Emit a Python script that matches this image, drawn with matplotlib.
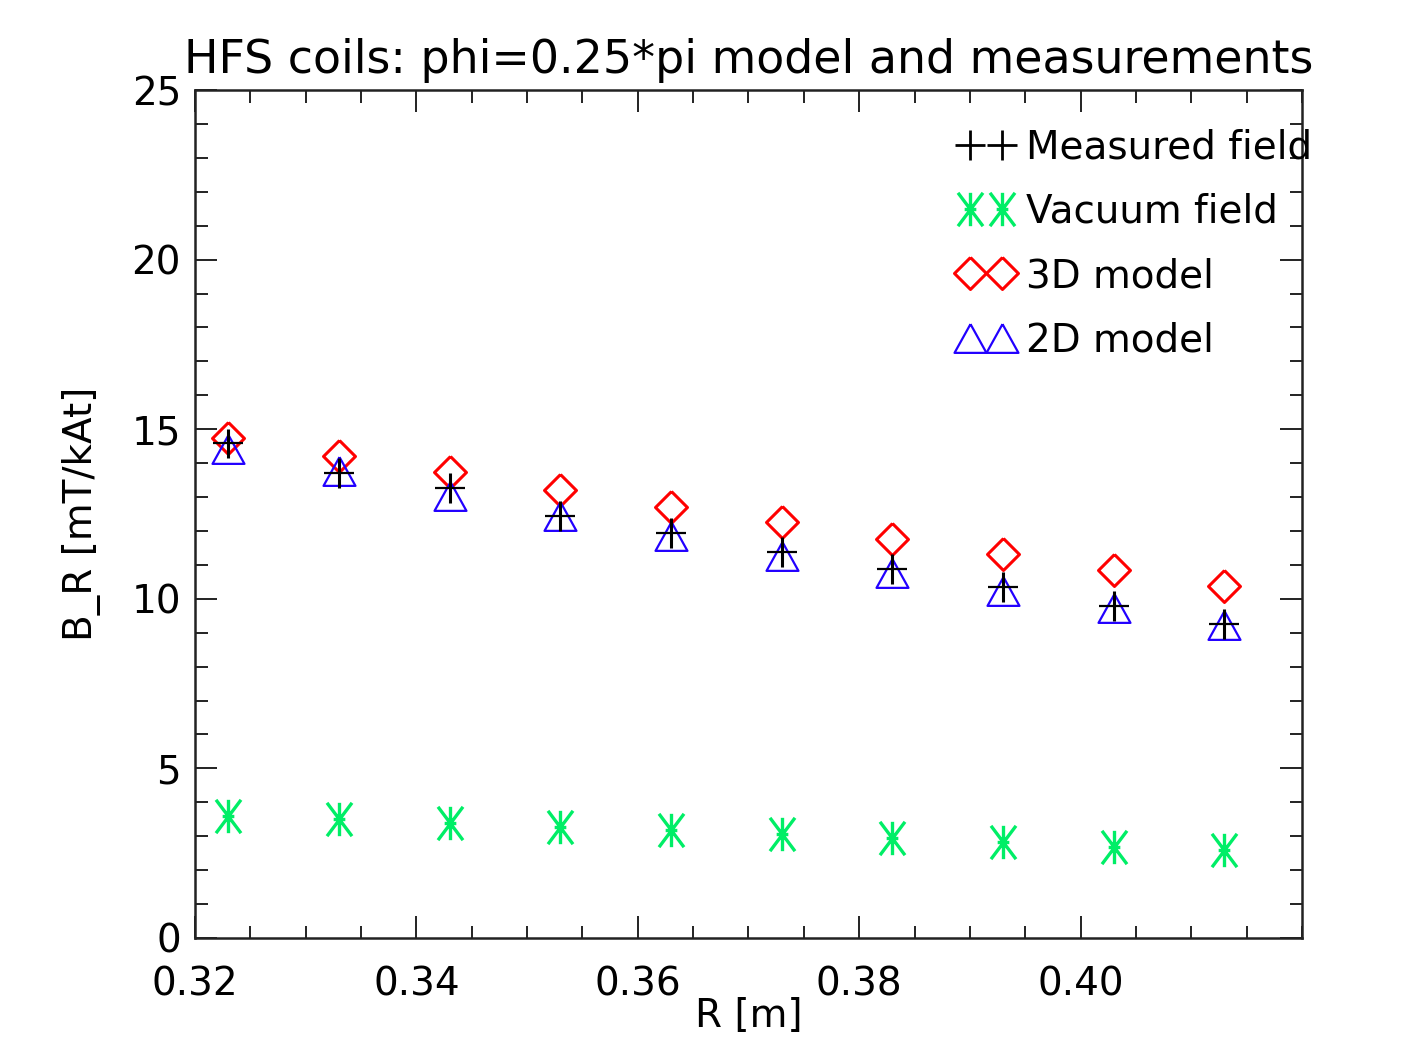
import numpy as np
import matplotlib
matplotlib.use("Agg")
import matplotlib.pyplot as plt
from matplotlib.path import Path
from matplotlib.ticker import MultipleLocator, FixedLocator

# data
R = [0.323, 0.333, 0.343, 0.353, 0.363, 0.373, 0.383, 0.393, 0.403, 0.413]
measured = [14.59, 13.71, 13.27, 12.44, 11.94, 11.38, 10.88, 10.35, 9.79, 9.26]
measured_err = [0.43, 0.44, 0.44, 0.44, 0.44, 0.44, 0.44, 0.44, 0.44, 0.44]
vacuum = [3.60, 3.51, 3.39, 3.27, 3.18, 3.07, 2.95, 2.83, 2.68, 2.59]
model_3d = [14.74, 14.21, 13.74, 13.21, 12.71, 12.26, 11.76, 11.32, 10.85, 10.38]
model_2d = [14.42, 13.77, 13.03, 12.44, 11.85, 11.26, 10.76, 10.23, 9.73, 9.23]

x_ticks = [0.32, 0.34, 0.36, 0.38, 0.40]
x_tick_labels = ["0.32", "0.34", "0.36", "0.38", "0.40"]

plt.rcParams['font.family'] = ['DejaVu Sans']
FS = 28

# IDL-like symbols
diamond = Path([(0, 1), (1, 0), (0, -1), (-1, 0), (0, 1)])
triangle = Path([(0, 0.9), (1, -0.9), (-1, -0.9), (0, 0.9)])
aster = Path([(0, -1), (0, 1), (-0.75, -1), (0.75, 1), (0.75, -1), (-0.75, 1), (-0.35, 0), (0.35, 0)],
             [Path.MOVETO, Path.LINETO, Path.MOVETO, Path.LINETO,
              Path.MOVETO, Path.LINETO, Path.MOVETO, Path.LINETO])

fig = plt.figure(figsize=(14.13, 10.43), dpi=100)
ax = fig.add_axes([0.138, 0.1007, 0.9214 - 0.138, 0.9137 - 0.1007])

green = '#00ee66'
red = '#ff0000'
blue = '#2200ff'

vac_style = dict(linestyle='none', marker=aster, markersize=24, markerfacecolor='none',
                 markeredgecolor=green, markeredgewidth=2.4)
d3_style = dict(linestyle='none', marker=diamond, markersize=23, markerfacecolor='none',
                markeredgecolor=red, markeredgewidth=2.2)
d2_style = dict(linestyle='none', marker=triangle, markersize=23, markerfacecolor='none',
                markeredgecolor=blue, markeredgewidth=1.6)

ax.plot(R, vacuum, **vac_style)
ax.plot(R, model_3d, **d3_style)
ax.plot(R, model_2d, **d2_style)
ax.errorbar(R, measured, yerr=measured_err, fmt='none', ecolor='black', elinewidth=2.2, capsize=0)
ax.plot(R, measured, linestyle='none', marker='_', markersize=22, markeredgecolor='black',
        markeredgewidth=1.6)

# legend handles (same symbols)
h_meas, = ax.plot([], [], linestyle='none', marker='+', markersize=22, markeredgecolor='black',
                  markeredgewidth=2.0, label='Measured field')
h_vac, = ax.plot([], [], label='Vacuum field', **vac_style)
h_3d, = ax.plot([], [], label='3D model', **d3_style)
h_2d, = ax.plot([], [], label='2D model', **d2_style)

leg = ax.legend(handles=[h_meas, h_vac, h_3d, h_2d], loc='upper left',
                bbox_to_anchor=(0.69, 0.955), frameon=False, numpoints=2,
                handlelength=1.42, handletextpad=0.3, labelspacing=0.68,
                fontsize=FS, borderaxespad=0, borderpad=0)

ax.set_xlim(0.32, 0.42)
ax.set_ylim(0, 25)
ax.xaxis.set_major_locator(FixedLocator(x_ticks))
ax.set_xticklabels(x_tick_labels)
ax.xaxis.set_minor_locator(MultipleLocator(0.005))
ax.yaxis.set_major_locator(MultipleLocator(5))
ax.yaxis.set_minor_locator(MultipleLocator(1))

ax.tick_params(which='both', direction='in', top=True, right=True, labelsize=FS,
               color='#222222', width=1.4)
ax.tick_params(which='major', length=16)
ax.tick_params(which='minor', length=9)
ax.tick_params(axis='x', which='major', pad=20)
ax.tick_params(axis='y', which='major', pad=10)
for s in ax.spines.values():
    s.set_linewidth(1.8)
    s.set_color('#222222')

ax.set_xlabel('R [m]', fontsize=FS, labelpad=-5)
ax.set_ylabel('B_R [mT/kAt]', fontsize=FS, labelpad=22)
ax.set_title('HFS coils: phi=0.25*pi model and measurements', fontsize=33, pad=12)

fig.savefig('out.png', dpi=100)
